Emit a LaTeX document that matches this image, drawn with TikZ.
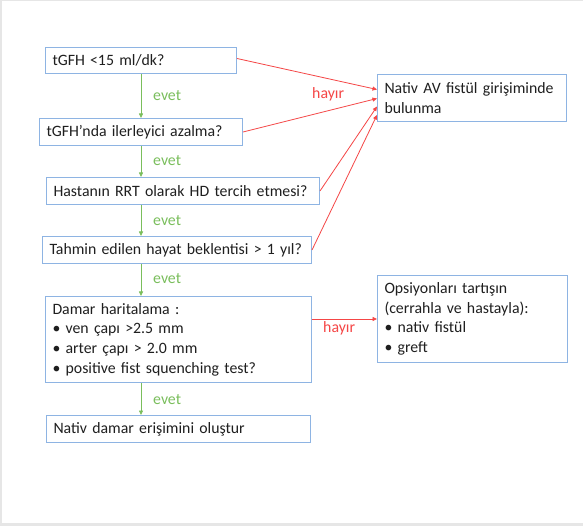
\documentclass[tikz,border=0pt]{standalone}
\usepackage{fontspec}
\setmainfont{Carlito}
\usetikzlibrary{arrows.meta}

\begin{document}
\begin{tikzpicture}[
  x=1pt, y=-1pt,
  box/.style={draw=boxblue, line width=1pt, anchor=north west, align=left,
    inner xsep=7pt, inner ysep=2pt, text width=#1, text=black!88,
    font=\fontsize{15.8}{19.6}\selectfont},
  yes/.style={draw=yesgreen, line width=0.8pt, -{Triangle[length=4.5pt,width=4pt]}},
  no/.style={draw=nored, line width=0.8pt, -{Triangle[length=4.5pt,width=4pt]}},
  lab/.style={font=\fontsize{15.8}{18}\selectfont, inner sep=0pt}
]
\definecolor{boxblue}{RGB}{142,180,227}
\definecolor{yesgreen}{RGB}{122,190,92}
\definecolor{nored}{RGB}{245,70,70}
\definecolor{framegray}{RGB}{230,230,230}

\useasboundingbox (0,0) rectangle (583,526);
\fill[framegray] (0,0) rectangle (583,526);
\fill[white] (2,1.5) rectangle (583,523);

% question column
\node[box=177pt, minimum height=26pt] (gfr) at (45,47) {tGFH <15 ml/dk?};
\node[box=189pt, minimum height=27pt] (azalma) at (39,118) {tGFH’nda ilerleyici azalma?};
\node[box=259pt, minimum height=27pt] (rrt) at (46,177) {Hastanın RRT olarak HD tercih etmesi?};
\node[box=255pt, minimum height=27pt] (beklenti) at (42,236) {Tahmin edilen hayat beklentisi > 1 yıl?};
\node[box=252pt, minimum height=86pt] (harita) at (45,296) {Damar haritalama :\\
  • ven çapı >2.5 mm\\
  • arter çapı > 2.0 mm\\
  • positive fist squenching test?};
\node[box=250pt, minimum height=27pt] (erisim) at (46,415) {Nativ damar erişimini oluştur};

% outcomes on the right
\node[box=175pt, minimum height=47pt] (fistul) at (377,74) {Nativ AV fistül girişiminde\\bulunma};
\node[box=176pt, minimum height=87pt] (opsiyon) at (377,275) {Opsiyonları tartışın\\
  (cerrahla ve hastayla):\\
  • nativ fistül\\
  • greft};

% yes path
\draw[yes] (gfr.south) -- (azalma.north);
\draw[yes] (azalma.south) -- (azalma.south |- rrt.north);
\draw[yes] (rrt.south -| azalma.south) -- (beklenti.north -| azalma.south);
\draw[yes] (beklenti.south -| azalma.south) -- (harita.north -| azalma.south);
\draw[yes] (harita.south -| azalma.south) -- (erisim.north -| azalma.south);
\node[lab, text=yesgreen, anchor=west] (evet1) at (153,96) {evet};
\node[lab, text=yesgreen, anchor=west] (evet2) at (153,161) {evet};
\node[lab, text=yesgreen, anchor=west] (evet3) at (153,221) {evet};
\node[lab, text=yesgreen, anchor=west] (evet4) at (153,279) {evet};
\node[lab, text=yesgreen, anchor=west] (evet5) at (153,400) {evet};

% no path
\draw[no] ([yshift=2pt]gfr.east) -- ([yshift=8.5pt]fistul.west);
\draw[no] (azalma.east) -- ([yshift=-0.5pt]fistul.west);
\draw[no] (rrt.east) -- ([yshift=-8.5pt]fistul.west);
\draw[no] (beklenti.east) -- ([yshift=-17pt]fistul.west);
\draw[no] (harita.east |- opsiyon.west) -- (opsiyon.west);
\node[lab, text=nored, anchor=west] (hayir1) at (312,94) {hayır};
\node[lab, text=nored, anchor=west] (hayir2) at (323,328) {hayır};
\end{tikzpicture}
\end{document}
